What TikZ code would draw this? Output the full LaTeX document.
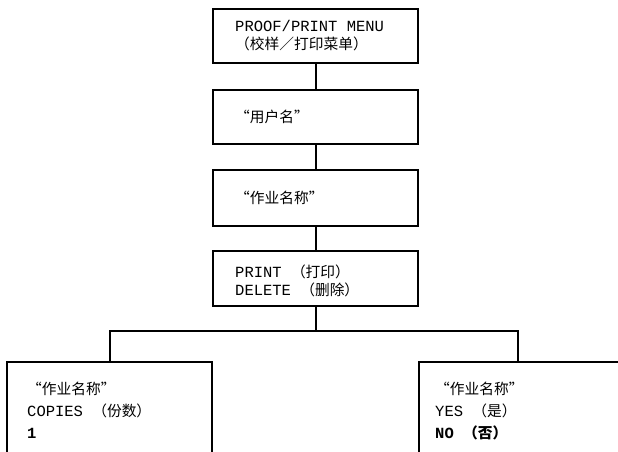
\documentclass[tikz,border=0pt]{standalone}
\usepackage{fontspec}
\setmonofont{Liberation Mono}
\newfontfamily\cjk[Scale=0.95]{Noto Sans CJK SC}
\newcommand\zh[1]{{\cjk #1}}
\tikzset{
  box/.style={draw, line width=1.8pt, minimum width=205pt, inner xsep=0pt, inner ysep=0pt},
  txt/.style={font=\ttfamily\fontsize{15.5pt}{18pt}\selectfont, align=left, inner sep=0pt},
  txtb/.style={font=\ttfamily\fontsize{15.5pt}{22pt}\selectfont, align=left, inner sep=0pt},
  conn/.style={line width=2pt}
}
\begin{document}
\begin{tikzpicture}[x=1pt,y=-1pt]
\useasboundingbox (0,0) rectangle (618,452);
\clip (0,0) rectangle (618,452);
\node[box, minimum height=54pt] (b1) at (315.5,36) {};
\node[box, minimum height=54pt] (b2) at (315.5,117) {};
\node[box, minimum height=56pt] (b3) at (315.5,198) {};
\node[box, minimum height=55pt] (b4) at (315.5,278.5) {};
\node[box, minimum height=110pt] (b5) at (109.5,417) {};
\node[box, minimum height=110pt] (b6) at (521.5,417) {};
\coordinate (j) at (315.5,331);
\coordinate (r) at (518,362);

\node[txt, anchor=west] (t1) at (235,36) {PROOF/PRINT MENU\\\zh{（校样／打印菜单）}};
\node[txt, anchor=west] (t2) at (235,117) {\zh{“用户名”}};
\node[txt, anchor=west] (t3) at (235,198) {\zh{“作业名称”}};
\node[txt, anchor=west] (t4) at (235,281) {PRINT \zh{（打印）}\\DELETE \zh{（删除）}};
\node[txtb, anchor=west] (t5) at (27,410) {\zh{“作业名称”}\\COPIES \zh{（份数）}\\\textbf{1}};
\node[txtb, anchor=west] (t6) at (435,411) {\zh{“作业名称”}\\YES \zh{（是）}\\\textbf{NO \zh{（否）}}};

\draw[conn] (b1) -- (b2);
\draw[conn] (b2) -- (b3);
\draw[conn] (b3) -- (b4);
\draw[conn] (b4) -- (j);
\draw[conn] (b5) |- (j) -| (r);
\end{tikzpicture}
\end{document}
